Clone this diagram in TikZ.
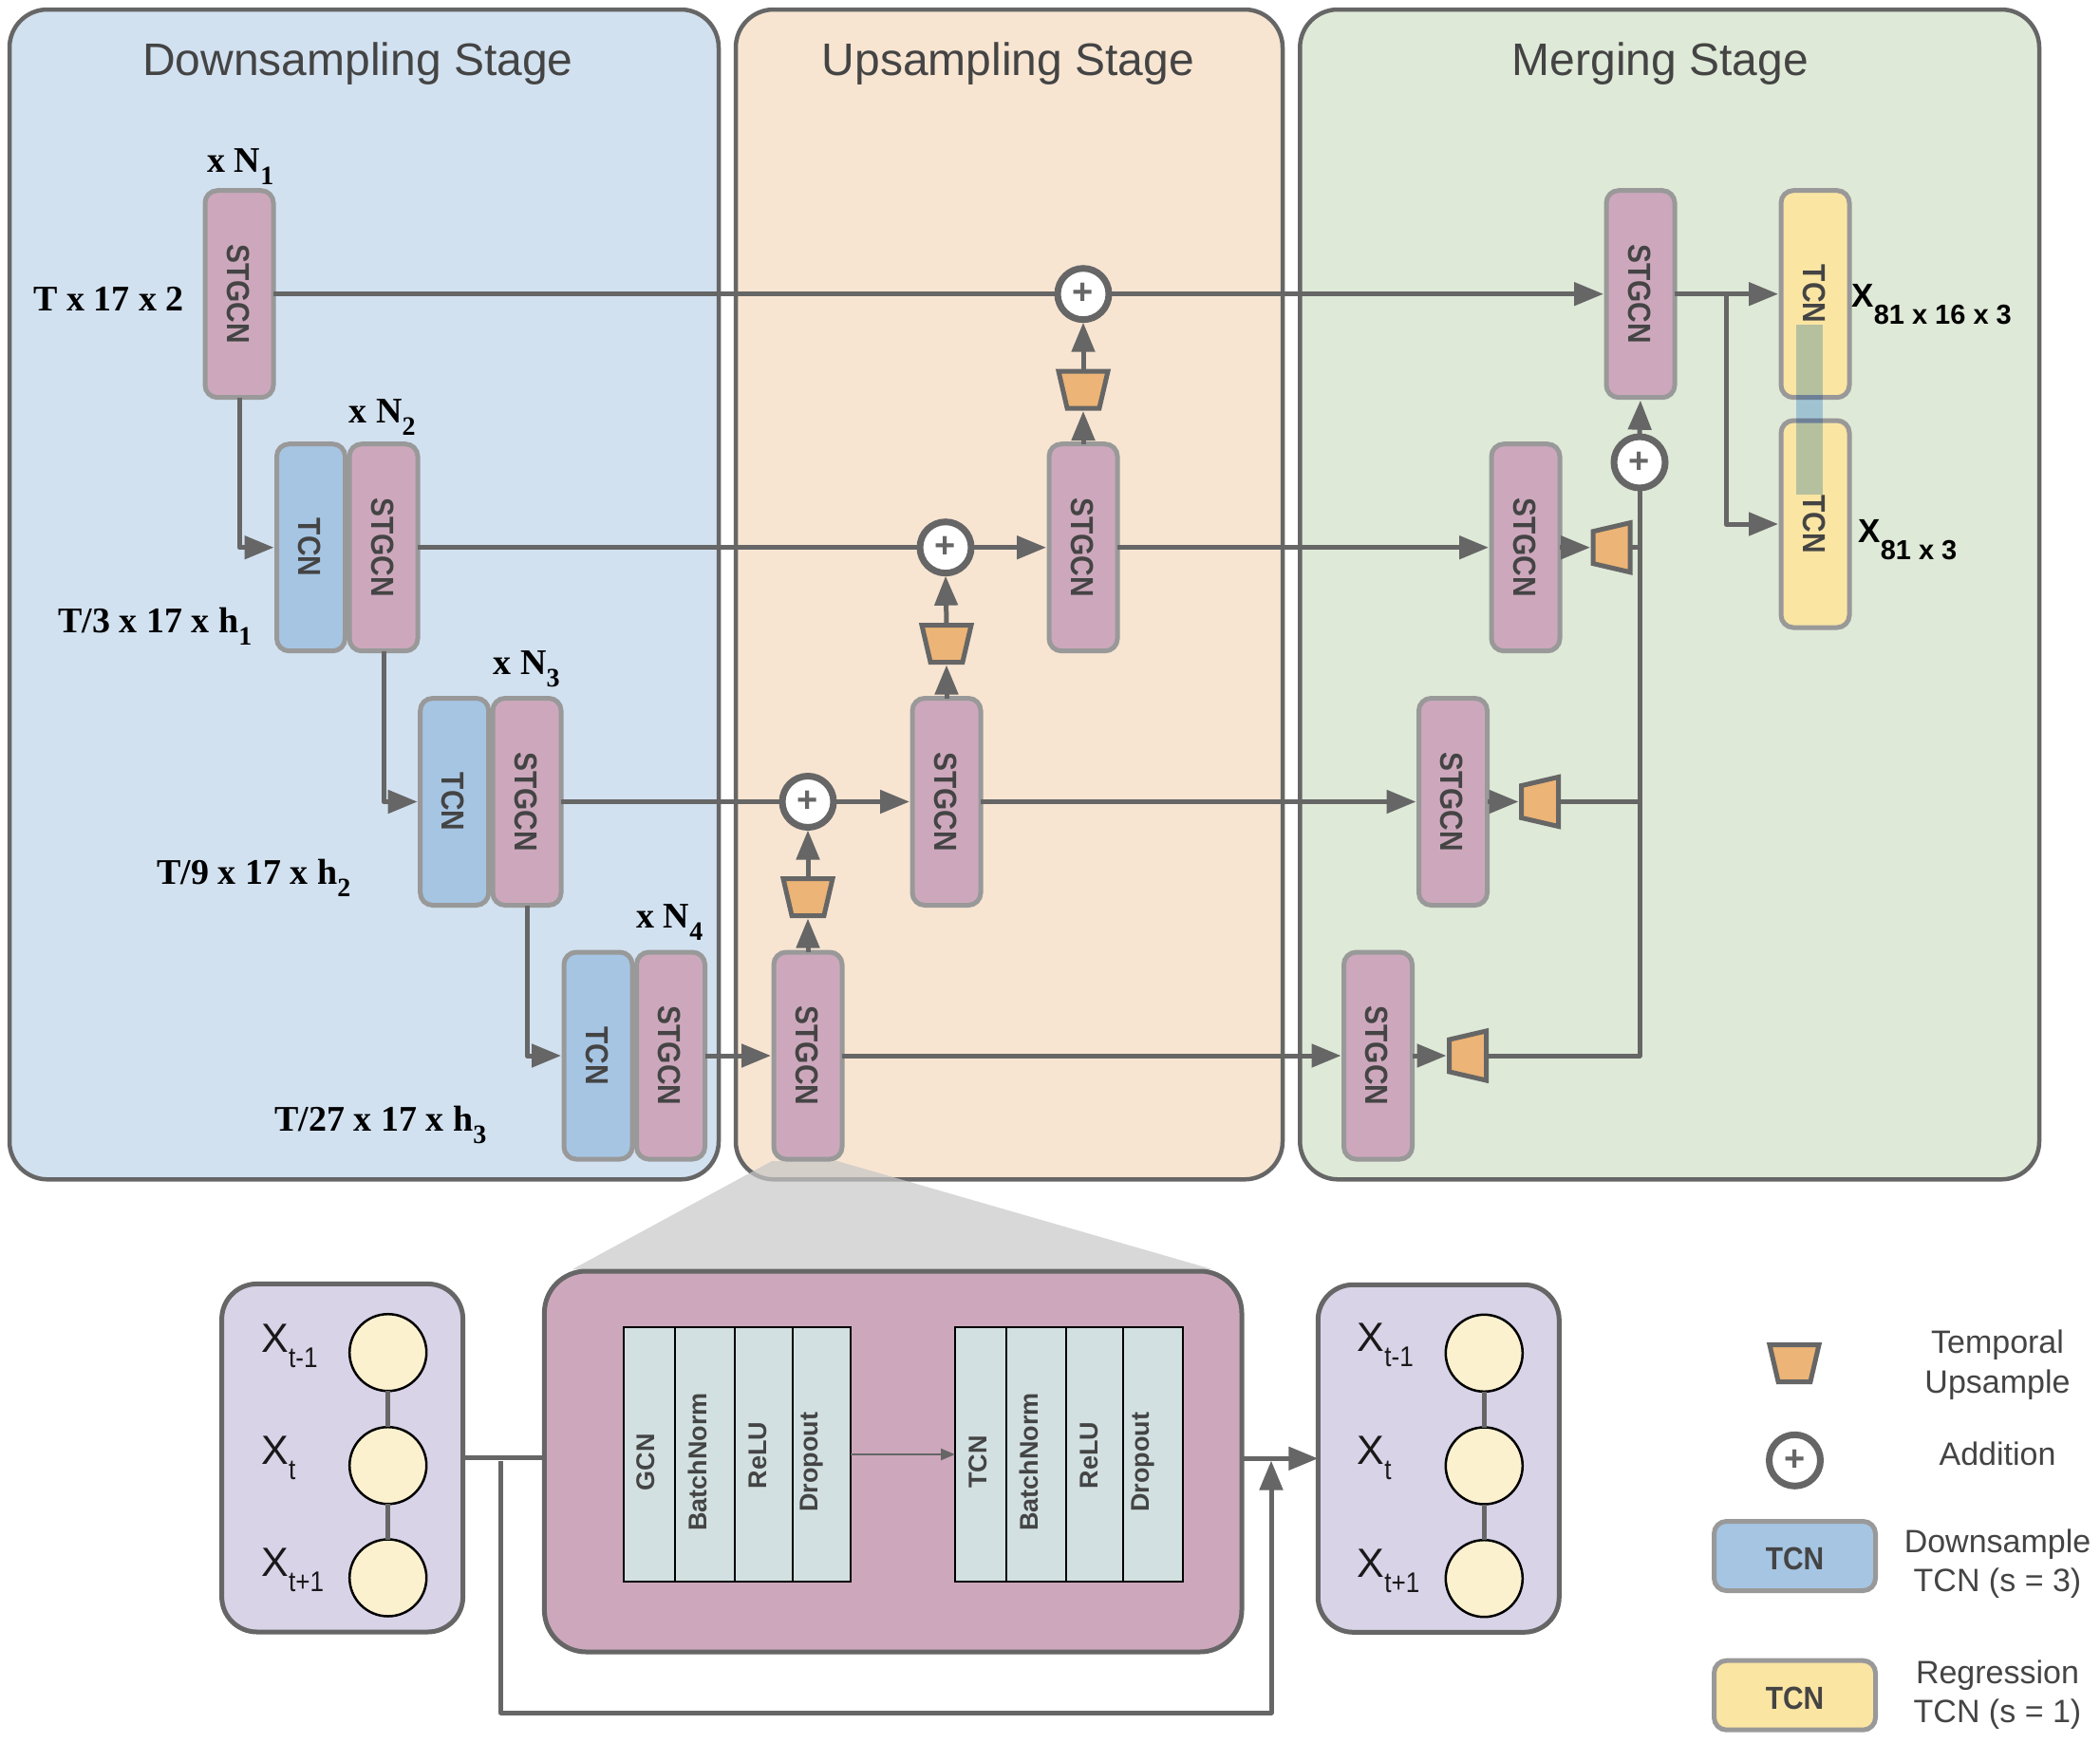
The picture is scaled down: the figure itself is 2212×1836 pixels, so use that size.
\documentclass[tikz,border=0pt]{standalone}
\usepackage{fontspec}
\usepackage{graphicx}
\setmainfont{Liberation Sans}
\newfontfamily\labfont{Liberation Serif}
\usetikzlibrary{arrows.meta,shapes.geometric}
\definecolor{pinkc}{HTML}{CDA8BC}
\definecolor{bluec}{HTML}{A6C5E3}
\definecolor{yellowc}{HTML}{FBE5A3}
\definecolor{panelb}{HTML}{D2E1F0}
\definecolor{panelo}{HTML}{F7E5D2}
\definecolor{panelg}{HTML}{DEE9D7}
\definecolor{lavc}{HTML}{D9D3E8}
\definecolor{trapc}{HTML}{ECB476}
\definecolor{cellc}{HTML}{D2E0E1}
\definecolor{linec}{HTML}{666666}
\definecolor{edgec}{HTML}{999999}
\definecolor{txtc}{HTML}{444444}
\definecolor{nodec}{HTML}{FCF1CF}
\definecolor{stripc}{HTML}{B8D6FA}
\newcommand\vlab[1]{\rotatebox{-90}{\fontsize{16.8}{16.8}\bfseries\color{txtc}\scalebox{.89}[1]{#1}}\kern 1.2pt}
\newcommand\hlab[1]{{\fontsize{16.8}{16.8}\bfseries\color{txtc}\rule{0pt}{14.7pt}\scalebox{.89}[1]{#1}}}
\newcommand\xsublab[1]{{\fontsize{21.5}{21.5}\selectfont X}\raisebox{-8pt}{\fontsize{15}{15}\selectfont\scalebox{.87}[1]{#1}}}
\newcommand\serlab[2]{{\fontsize{19}{19}\labfont\bfseries #1\raisebox{-6.5pt}{\fontsize{14}{14}\labfont\bfseries\selectfont #2}}}
\newcommand\outlab[2]{{\fontsize{17.5}{17.5}\bfseries #1\raisebox{-9pt}{\fontsize{14.5}{14.5}\bfseries\selectfont #2}}}
\tikzset{
  x=.5pt,y=-.5pt,
  panel/.style={draw=linec,line width=2.25pt,rounded corners=20pt},
  block/.style={draw=edgec,line width=2.5pt,rounded corners=6.5pt,minimum width=36pt,minimum height=109pt,inner sep=0pt,outer sep=0pt},
  stg/.style={block,fill=pinkc},
  tcnb/.style={block,fill=bluec},
  tcny/.style={block,fill=yellowc},
  legbox/.style={block,minimum width=85pt,minimum height=36.5pt},
  addn/.style={circle,draw=linec,line width=3.5pt,fill=white,minimum size=27pt,inner sep=0pt,outer sep=0pt,text=linec,font=\fontsize{19}{19}\bfseries},
  updn/.style={trapezium,trapezium left angle=75,trapezium right angle=75,trapezium stretches=true,draw=linec,line width=2.5pt,fill=trapc,minimum width=26pt,minimum height=19.5pt,inner sep=1pt,outer sep=0pt,shape border rotate=180},
  updh/.style={updn,shape border rotate=90},
  conn/.style={draw=linec,line width=2.5pt,line join=round},
  arr/.style={conn,-{Triangle[length=15.5pt,width=12pt]},shorten >=1.5pt},
  title/.style={anchor=base,inner sep=0pt,text=txtc,font=\fontsize{24}{24}\selectfont},
  sbox/.style={draw=linec,line width=2.5pt,rounded corners=18.5pt,fill=lavc,inner sep=0pt,outer sep=0pt},
  tnode/.style={circle,draw=black,line width=1.25pt,fill=nodec,minimum size=40.5pt,inner sep=0pt,outer sep=0pt},
  cell/.style={draw=black,line width=1.25pt,fill=cellc,minimum height=134pt,inner sep=0pt,outer sep=0pt},
  celltxt/.style={rotate=90,text=txtc,inner sep=0pt,font=\fontsize{13.5}{13.5}\bfseries},
  lab/.style={anchor=base west,inner sep=0pt,text=black},
  legtxt/.style={anchor=base,text=txtc,inner sep=0pt,font=\fontsize{17}{17}\selectfont},
  xnlab/.style={anchor=base west,inner sep=0pt,text=black!90},
}
\begin{document}
\begin{tikzpicture}
\useasboundingbox (0,0) rectangle (2212,1836);
% panels
\path[panel,fill=panelb] (10,10) rectangle (757,1242.3);
\path[panel,fill=panelo] (775,10) rectangle (1351,1242.3);
\path[panel,fill=panelg] (1369.3,10) rectangle (2148,1242.3);
\node[title] (t1) at (377,79.5) {Downsampling Stage};
\node[title] (t2) at (1062,79.5) {Upsampling Stage};
\node[title] (t3) at (1749,79.5) {Merging Stage};
% zoom wedge
\fill[fill=black!22,opacity=.7] (813,1223) -- (882,1223) -- (1277,1337) -- (603,1337) -- cycle;
% downsampling blocks
\node[stg] (d1) at (252,309.7) {\vlab{STGCN}};
\node[tcnb] (dt2) at (327.5,576.7) {\vlab{TCN}};
\node[stg] (d2) at (404,576.7) {\vlab{STGCN}};
\node[tcnb] (dt3) at (478.7,844.5) {\vlab{TCN}};
\node[stg] (d3) at (555,844.5) {\vlab{STGCN}};
\node[tcnb] (dt4) at (630,1112) {\vlab{TCN}};
\node[stg] (d4) at (706.5,1112) {\vlab{STGCN}};
% upsampling blocks
\node[stg] (u1) at (851,1112) {\vlab{STGCN}};
\node[stg] (u2) at (997,844.5) {\vlab{STGCN}};
\node[stg] (u3) at (1141,576.7) {\vlab{STGCN}};
\node[updn] (ut1) at (851,945) {};
\node[updn] (ut2) at (997,678) {};
\node[updn] (ut3) at (1141,410.5) {};
\node[addn] (p1) at (1141,309.7) {+};
\node[addn] (p2) at (996,576.7) {+};
\node[addn] (p3) at (851,844.5) {+};
% merging blocks
\node[stg] (m4) at (1451.5,1112) {\vlab{STGCN}};
\node[stg] (m3) at (1530.5,844.5) {\vlab{STGCN}};
\node[stg] (m2) at (1607,576.7) {\vlab{STGCN}};
\node[stg] (m1) at (1728,309.7) {\vlab{STGCN}};
\node[updh] (mt4) at (1546,1112) {};
\node[updh] (mt3) at (1622,844.5) {};
\node[updh] (mt2) at (1697.5,576.7) {};
\node[addn] (p4) at (1727,487) {+};
\node[tcny] (r1) at (1912,309.7) {\vlab{TCN}};
\node[tcny] (r2) at (1912,552) {\vlab{TCN}};
% connectors
\draw[arr] (d1.south) |- (dt2.west);
\draw[arr] (d2.south) |- (dt3.west);
\draw[arr] (d3.south) |- (dt4.west);
\draw[arr] (d4.east) -- (u1.west);
\draw[conn] (d1.east) -- (p1.west);
\draw[arr] (p1.east) -- (m1.west);
\draw[conn] (d2.east) -- (p2.west);
\draw[arr] (p2.east) -- (u3.west);
\draw[conn] (d3.east) -- (p3.west);
\draw[arr] (p3.east) -- (u2.west);
\draw[arr] (u1.east) -- (m4.west);
\draw[arr] (u2.east) -- (m3.west);
\draw[arr] (u3.east) -- (m2.west);
\draw[arr] (u1.north) -- (ut1.south);
\draw[arr] (ut1.north) -- (p3.south);
\draw[arr] (u2.north) -- (ut2.south);
\draw[arr] (ut2.north) -- (p2.south);
\draw[arr] (u3.north) -- (ut3.south);
\draw[arr] (ut3.north) -- (p1.south);
\draw[arr] (m4.east) -- (mt4.west);
\draw[arr] (m3.east) -- (mt3.west);
\draw[arr] (m2.east) -- (mt2.west);
\draw[conn] (mt4.east) -| (p4.south);
\draw[conn] (mt3.east) -- (mt3.east -| p4.south);
\draw[conn] (mt2.east) -- (mt2.east -| p4.south);
\draw[arr] (p4.north) -- (m1.south);
\coordinate (mfork) at (1818,309.7);
\draw[arr] (m1.east) -- (r1.west);
\draw[arr] (mfork) |- (r2.west);
% overlay strip
\fill[fill=stripc,blend mode=multiply] (1892,342) rectangle (1920,521);
% labels
\node[lab] (ln1) at (218,181) {\serlab{x N}{1}};
\node[lab] (ln2) at (367.4,445.5) {\serlab{x N}{2}};
\node[lab] (ln3) at (519.3,710.7) {\serlab{x N}{3}};
\node[lab] (ln4) at (670,977.7) {\serlab{x N}{4}};
\node[lab] (ls1) at (35,327) {\serlab{T x 17 x 2}{}};
\node[lab] (ls2) at (61,666) {\serlab{T/3 x 17 x h}{1}};
\node[lab] (ls3) at (165,931) {\serlab{T/9 x 17 x h}{2}};
\node[lab] (ls4) at (289,1191.7) {\serlab{T/27 x 17 x h}{3}};
\node[lab] (o1) at (1950,323) {\outlab{X}{81 x 16 x 3}};
\node[lab] (o2) at (1957,571) {\outlab{X}{81 x 3}};
% bottom section
\node[sbox,minimum width=127pt,minimum height=183.3pt] (sl) at (360.6,1535.7) {};
\node[sbox,minimum width=127pt,minimum height=183pt] (sr) at (1515.3,1536.3) {};
\node[sbox,fill=pinkc,minimum width=367.3pt,minimum height=200.5pt,rounded corners=22pt] (big) at (940.7,1539.5) {};
\foreach \n/\xx/\yy in {a/408.7/1424.7,b/408.7/1543.7,c/408.7/1662,d/1563.3/1425.3,e/1563.3/1544,f/1563.3/1662.7}
  {\node[tnode] (n\n) at (\xx,\yy) {};}
\draw[conn] (na) -- (nb);
\draw[conn] (nb) -- (nc);
\draw[conn] (nd) -- (ne);
\draw[conn] (ne) -- (nf);
\node[xnlab] (xa) at (275,1424) {\xsublab{t-1}};
\node[xnlab] (xb) at (275,1542) {\xsublab{t}};
\node[xnlab] (xc) at (275,1660.7) {\xsublab{t+1}};
\node[xnlab] (xd) at (1429.3,1423.3) {\xsublab{t-1}};
\node[xnlab] (xe) at (1429.3,1542) {\xsublab{t}};
\node[xnlab] (xf) at (1429.3,1661) {\xsublab{t+1}};
% tables
\node[cell,minimum width=27pt] (c1) at (684,1532) {};
\node[cell,minimum width=31.5pt] (c2) at (742.5,1532) {};
\node[cell,minimum width=30.5pt] (c3) at (804.5,1532) {};
\node[cell,minimum width=30.5pt] (c4) at (865.5,1532) {};
\node[cell,minimum width=27pt] (c5) at (1033,1532) {};
\node[cell,minimum width=31.5pt] (c6) at (1091.5,1532) {};
\node[cell,minimum width=30pt] (c7) at (1153,1532) {};
\node[cell,minimum width=31.5pt] (c8) at (1214.5,1532) {};
\node[celltxt] (g1) at (680,1540) {GCN};
\node[celltxt] (g2) at (735,1540) {BatchNorm};
\node[celltxt] (g3) at (798,1533) {ReLU};
\node[celltxt] (g4) at (855,1540) {Dropout};
\node[celltxt] (g5) at (1030,1540) {TCN};
\node[celltxt] (g6) at (1084,1540) {BatchNorm};
\node[celltxt] (g7) at (1147,1533) {ReLU};
\node[celltxt] (g8) at (1204,1540) {Dropout};
\draw[draw=linec,line width=1.25pt,-{Triangle[length=7.5pt,width=6pt]}] (c4.east) -- (c5.west);
\draw[conn] (sl.east) -- (sl.east -| big.west);
\draw[arr,shorten >=0pt] (sr.west -| big.east) -- (sr.west);
\coordinate (skipa) at (527.3,1539.3);
\coordinate (skipb) at (1339,1804);
\coordinate (skipc) at (1339,1538.5);
\draw[conn,-{Triangle[length=15.5pt,width=12pt]}] (skipa) |- (skipb) -- (skipc);
% legend
\node[updn] (lg1) at (1890,1436) {};
\node[addn] (lg2) at (1890.5,1538.3) {+};
\node[legbox,fill=bluec] (lg3) at (1890.5,1639) {\hlab{TCN}};
\node[legbox,fill=yellowc] (lg4) at (1890.5,1785.7) {\hlab{TCN}};
\node[legtxt] (lt1) at (2104,1425) {Temporal};
\node[legtxt] (lt1b) at (2104,1467) {Upsample};
\node[legtxt] (lt2) at (2104,1543) {Addition};
\node[legtxt] (lt3) at (2104,1635) {Downsample};
\node[legtxt] (lt3b) at (2104,1676) {TCN (s = 3)};
\node[legtxt] (lt4) at (2104,1773) {Regression};
\node[legtxt] (lt4b) at (2104,1814) {TCN (s = 1)};
\end{tikzpicture}
\end{document}
